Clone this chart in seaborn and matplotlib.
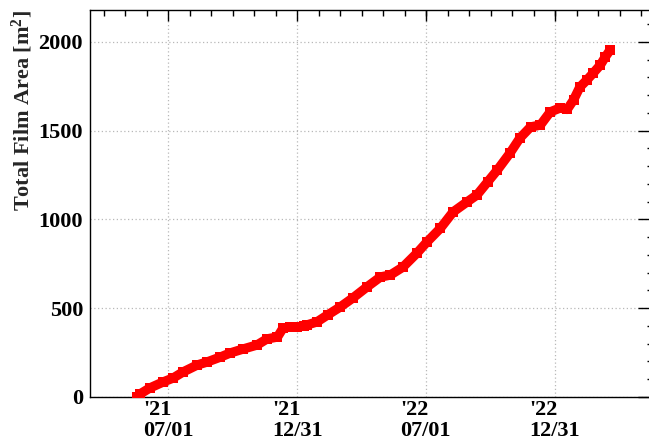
import numpy as np
import pandas as pd
import matplotlib
matplotlib.use('Agg')
import matplotlib.pyplot as plt
import matplotlib.dates as mdates
import matplotlib.ticker as mticker
import seaborn as sns

# ---- data ----
dates = ['2021-05-18', '2021-05-22', '2021-06-05', '2021-06-24', '2021-07-08',
         '2021-07-22', '2021-08-11', '2021-08-25', '2021-09-13', '2021-09-27',
         '2021-10-15', '2021-11-04', '2021-11-18', '2021-12-03', '2021-12-11',
         '2021-12-21', '2021-12-31', '2022-01-09', '2022-01-14', '2022-01-28',
         '2022-02-12', '2022-03-02', '2022-03-20', '2022-04-09', '2022-04-28',
         '2022-05-12', '2022-05-30', '2022-06-19', '2022-07-03', '2022-07-22',
         '2022-08-09', '2022-08-29', '2022-09-12', '2022-09-27', '2022-10-11',
         '2022-10-29', '2022-11-12', '2022-11-27', '2022-12-11', '2022-12-25',
         '2023-01-08', '2023-01-18', '2023-01-27', '2023-02-05', '2023-02-15',
         '2023-02-24', '2023-03-06', '2023-03-13', '2023-03-20']
area = [0, 17, 51, 85, 107,
        141, 180, 197, 225, 248,
        270, 293, 327, 338, 389,
        394, 394, 400, 406, 423,
        462, 507, 558, 620, 676,
        687, 732, 811, 873, 950,
        1042, 1099, 1138, 1211, 1279,
        1375, 1459, 1521, 1532, 1606,
        1628, 1620, 1673, 1746, 1786,
        1825, 1870, 1915, 1955]

tick_dates = ['2021-07-01', '2021-12-31', '2022-07-01', '2022-12-31']
tick_labels = ["'21\n07/01", "'21\n12/31", "'22\n07/01", "'22\n12/31"]
x_range = ['2021-03-12', '2023-05-24']
y_range = [0, 2180]
y_ticks = [0, 500, 1000, 1500, 2000]
y_label = 'Total Film Area [m$^{2}$]'

# ---- style ----
sns.set_style('white')
plt.rcParams['font.family'] = ['Liberation Serif', 'DejaVu Serif']
plt.rcParams['font.weight'] = 'bold'
plt.rcParams['mathtext.default'] = 'regular'

df = pd.DataFrame({'date': pd.to_datetime(dates), 'area': area})

fig = plt.figure(figsize=(6.49, 4.41), dpi=100)
# the frame's right edge lies just outside the picture, as in the reference
ax = fig.add_axes([90 / 649, 1 - 397 / 441, (656 - 90) / 649, (397 - 10) / 441])

sns.lineplot(data=df, x='date', y='area', ax=ax, color='#ff0000',
             linewidth=6.8, marker='s', markersize=7.2, markeredgewidth=0,
             solid_capstyle='butt', zorder=3)

xt = mdates.date2num(pd.to_datetime(tick_dates))
ax.set_xlim(mdates.date2num(pd.to_datetime(x_range)))
ax.set_ylim(*y_range)
ax.set_xticks(xt)
ax.set_xticklabels(tick_labels)
step = (xt[1] - xt[0]) / 6.0
lo, hi = ax.get_xlim()
minor = [xt[0] + k * step for k in range(-10, 40)]
minor = [m for m in minor if lo <= m <= hi]
ax.xaxis.set_minor_locator(mticker.FixedLocator(minor))
ax.set_yticks(y_ticks)
ax.yaxis.set_minor_locator(mticker.MultipleLocator(100))

for lab in ax.get_xticklabels():
    lab.set_multialignment('left')
    lab.set_linespacing(1.05)

ax.tick_params(axis='both', which='both', direction='in', top=True, right=True,
               labelsize=16, colors='black', width=1.0)
ax.tick_params(axis='y', which='major', length=13, pad=5)
ax.tick_params(axis='y', which='minor', length=6.5)
ax.tick_params(axis='x', which='major', length=7.8, pad=2)
ax.tick_params(axis='x', which='minor', length=4.0)

ax.grid(True, which='major', color='#b8b8b8', linestyle=(0, (1, 2)), linewidth=0.9)
for s in ax.spines.values():
    s.set_color('black')
    s.set_linewidth(1.0)

ax.set_xlabel('')
ax.set_ylabel(y_label, loc='top', fontsize=16, fontweight='bold')
ax.yaxis.set_label_coords(-0.0975, 1.0)

fig.savefig('out.png', dpi=100)
